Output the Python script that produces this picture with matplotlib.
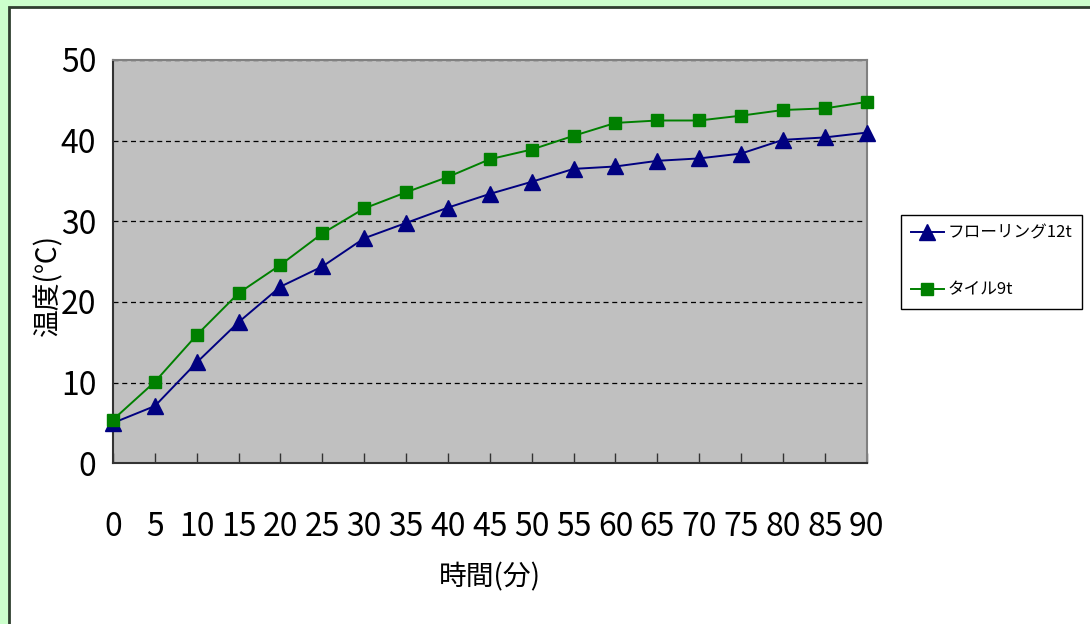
import matplotlib.pyplot as plt
from matplotlib.patches import Rectangle

plt.rcParams['font.family'] = ['Liberation Sans Narrow', 'Noto Sans CJK JP', 'DejaVu Sans']

minutes = [0, 5, 10, 15, 20, 25, 30, 35, 40, 45, 50, 55, 60, 65, 70, 75, 80, 85, 90]
flooring = [5.0, 7.1, 12.5, 17.5, 21.9, 24.4, 27.9, 29.8, 31.7, 33.4, 34.9, 36.5, 36.8,
            37.5, 37.8, 38.4, 40.1, 40.4, 41.0]
tile = [5.4, 10.1, 15.9, 21.1, 24.6, 28.5, 31.6, 33.6, 35.5, 37.7, 38.9, 40.6, 42.2,
        42.5, 42.5, 43.1, 43.8, 44.0, 44.8]

fig = plt.figure(figsize=(10.9, 6.24), dpi=100)
fig.patch.set_facecolor('#ccffcc')
fig.patches.append(Rectangle((8.5 / 1090, -0.01), 1.02, 1 - 6.5 / 624 + 0.01,
                             transform=fig.transFigure, facecolor='white',
                             edgecolor='#2f3f2f', linewidth=2, zorder=-10))

ax = fig.add_axes([113 / 1090, 1 - 463.3 / 624, (866.7 - 113) / 1090, (463.3 - 60) / 624])
ax.set_facecolor('#c0c0c0')

ax.plot(minutes, flooring, color='#000080', marker='^', markersize=11, linewidth=1.4,
        label='フローリング12t', clip_on=False, zorder=3)
ax.plot(minutes, tile, color='#008000', marker='s', markersize=9, linewidth=1.4,
        label='タイル9t', clip_on=False, zorder=3)

ax.set_xlim(0, 90)
ax.set_ylim(0, 50)
ax.set_xticks(minutes)
ax.set_yticks([0, 10, 20, 30, 40, 50])
ax.grid(axis='y', color='black', linestyle=(0, (4, 3)), linewidth=0.9)
ax.set_axisbelow(True)

for side in ['left', 'bottom']:
    ax.spines[side].set_color('#333333')
    ax.spines[side].set_linewidth(1.5)
for side in ['top', 'right']:
    ax.spines[side].set_color('#808080')
    ax.spines[side].set_linewidth(1.5)

ax.tick_params(axis='x', direction='in', length=7, width=1, color='#333333',
               labelsize=23, pad=34)
ax.tick_params(axis='y', direction='in', length=0, labelsize=23, pad=12)

ax.set_xlabel('時間(分)', fontsize=20, labelpad=14, family=['Noto Sans CJK JP'])
ax.set_ylabel('温度(℃)', fontsize=20, family=['Noto Sans CJK JP'])
ax.yaxis.set_label_coords(-0.066, 0.442)

leg = ax.legend(loc='center left', bbox_to_anchor=(1.045, 0.5), frameon=True,
                fancybox=False, edgecolor='black', framealpha=1,
                prop={'family': ['Noto Sans CJK JP'], 'size': 12},
                handlelength=2.0, borderpad=0.6, labelspacing=2.4, handletextpad=0.2,
                borderaxespad=0)
leg.get_frame().set_linewidth(1)

fig.savefig('out.png', dpi=100, facecolor=fig.get_facecolor())
